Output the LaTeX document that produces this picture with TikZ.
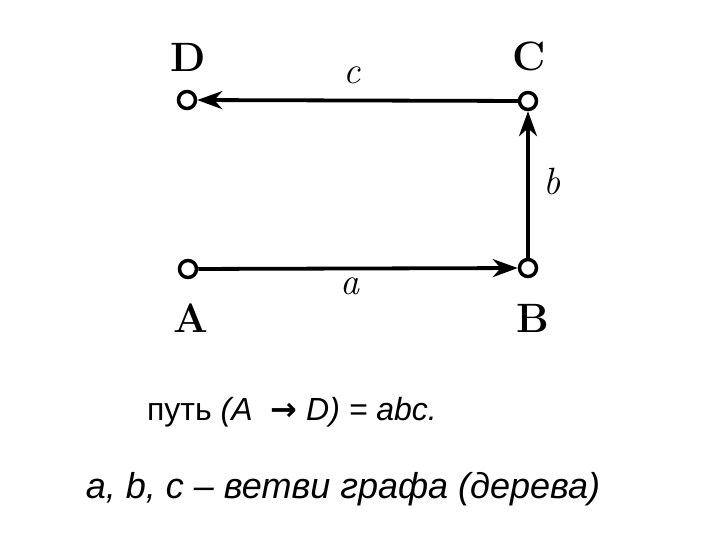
\documentclass[tikz,border=0pt]{standalone}
\usepackage{fontspec}
\setsansfont{Liberation Sans}
\newfontfamily\symfont{DejaVu Sans}
\usepackage{tikz}
\usetikzlibrary{arrows.meta}

\tikzset{
	vertex/.style={circle, draw, line width=3.5pt, fill=white, minimum size=17pt, inner sep=0pt},
	vlabel/.style={font=\fontsize{41}{44}\selectfont\bfseries},
	elabel/.style={font=\fontsize{38}{40}\selectfont\itshape},
	branch/.style={line width=3.8pt, -{Stealth[length=25pt,width=18pt,inset=8pt]}}
}

\begin{document}
\begin{tikzpicture}[x=1pt,y=-1pt]
				\useasboundingbox (0,0) rectangle (720,540);
				
				% Vertices
				\node[vertex] (D) at (187, 100) {};
				\node[vertex] (C) at (528, 101) {};
				\node[vertex] (A) at (188, 269) {};
				\node[vertex] (B) at (528, 268) {};
				
				\node[vlabel] (labD) at (188, 57) {D};
				\node[vlabel] (labC) at (529, 56) {C};
				\node[vlabel] (labA) at (191, 318) {A};
				\node[vlabel] (labB) at (533, 318) {B};
				
				% Branches
				\draw[branch] (A) -- (B);
				\draw[branch] (B) -- (C);
				\draw[branch] (C) -- (D);
				
				\node[elabel] (la) at (350, 286) {a};
				\node[elabel] (lb) at (552, 182) {b};
				\node[elabel] (lc) at (352, 75) {c};
				
				% Text
				\node[font=\sffamily\fontsize{32}{36}\selectfont] (path) at (292, 412)
					{путь \textit{(A}\ \ {\symfont\bfseries →} \textit{D) = abc.}};
				\node[font=\sffamily\itshape\fontsize{36}{40}\selectfont] (note) at (343, 489)
					{a, b, c – ветви графа (дерева)};
			\end{tikzpicture}
\end{document}
